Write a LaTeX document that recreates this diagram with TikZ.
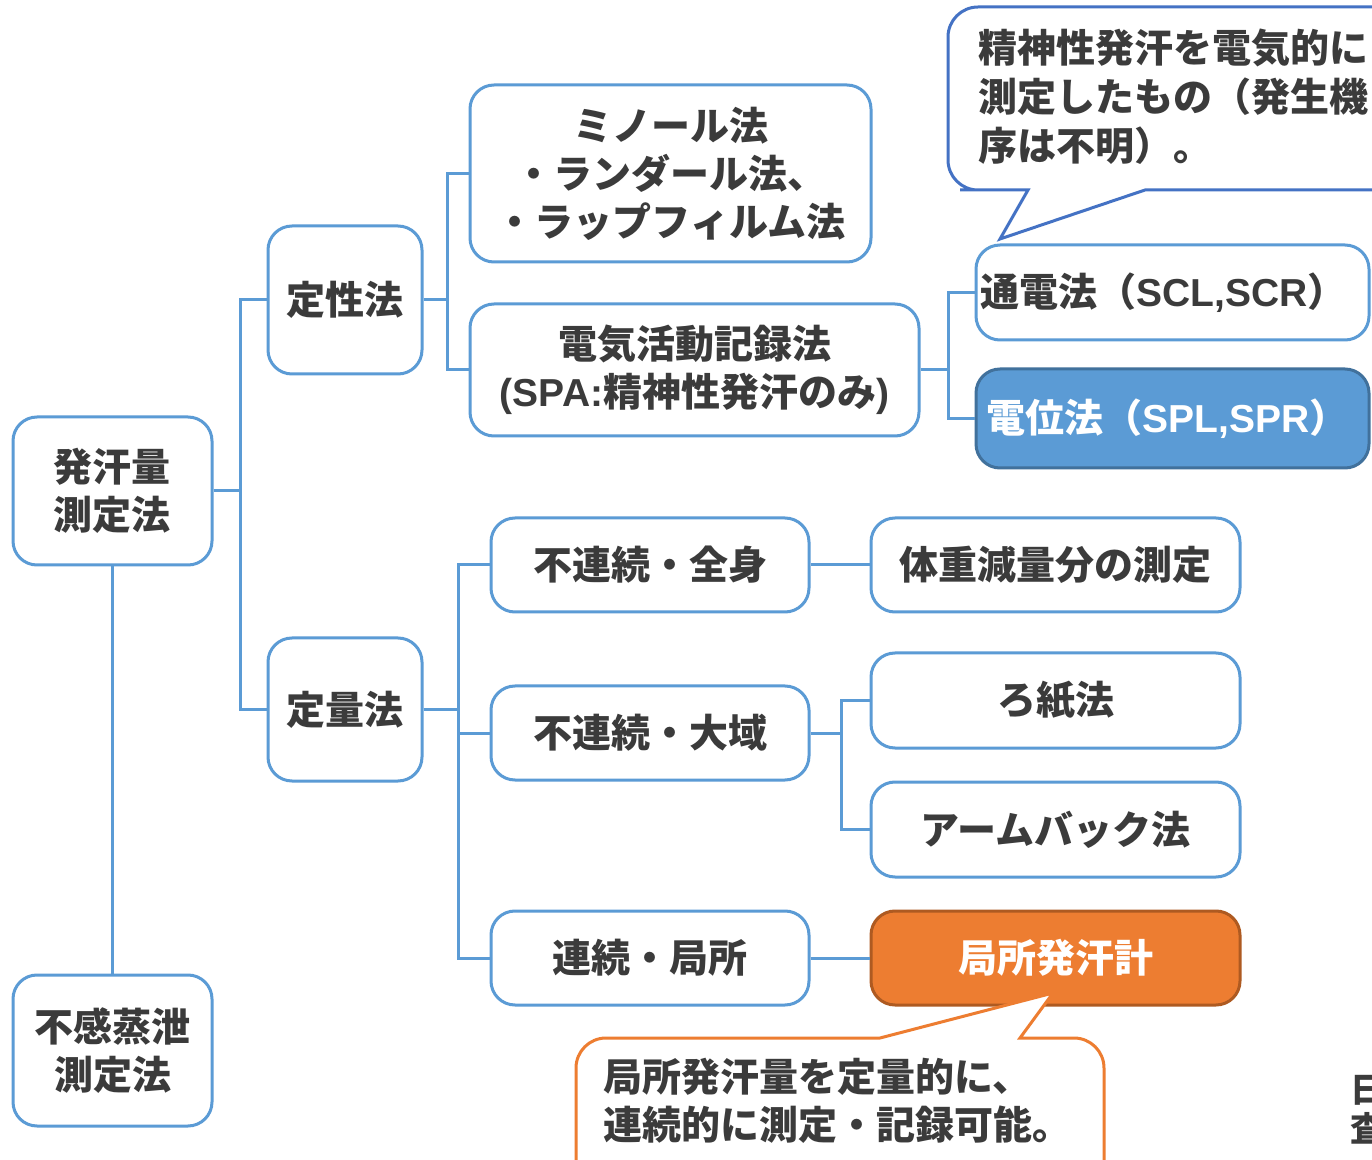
\documentclass[tikz,border=0pt]{standalone}
\usepackage{fontspec}
\setmainfont{Noto Sans CJK JP}
\newfontfamily\lat{Liberation Sans}[UprightFont={* Bold}, BoldFont={* Bold}]
\definecolor{lblue}{HTML}{5B9BD5}
\definecolor{dblue}{HTML}{41719C}
\definecolor{cblue}{HTML}{4472C4}
\definecolor{tcol}{HTML}{3B3B3B}
\definecolor{orng}{HTML}{ED7D31}
\definecolor{dorng}{HTML}{AE5A21}
\newcommand\bigfont{\fontsize{19.5}{24}\selectfont\bfseries}
\tikzset{
  box/.style={draw=lblue, line width=1.5pt, rounded corners=12pt, fill=white, text=tcol, font=\bigfont, align=center, inner sep=0pt},
  conn/.style={draw=lblue, line width=1.5pt},
  lefttext/.style={align=left, text width=192pt, inner xsep=2pt},
  calltext/.style={text=tcol, font=\bigfont, anchor=west, align=left, inner sep=0pt},
}
\begin{document}
\begin{tikzpicture}[x=0.5pt,y=-0.5pt]
\path[use as bounding box, clip] (0,0) rectangle (1372,1160);
\fill[white] (0,0) rectangle (1372,1160);
% nodes
\node[box, minimum width=99.5pt, minimum height=74pt] (hakkan) at (112.5,491) {発汗量\\測定法};
\node[box, minimum width=99.5pt, minimum height=75.5pt] (fukan) at (112.5,1050.5) {不感蒸泄\\測定法};
\node[box, minimum width=77pt, minimum height=74pt] (teisei) at (345,300) {定性法};
\node[box, minimum width=77pt, minimum height=71.5pt] (teiryo) at (345,709.5) {定量法};
\node[box, minimum width=200.5pt, minimum height=88.5pt] (minor) at (670.5,173.5) {ミノール法\\・ランダール法、\\・ラップフィルム法};
\node[box, minimum width=224.5pt, minimum height=66pt] (denki) at (694.5,370) {電気活動記録法\\{\lat (SPA:}精神性発汗のみ{\lat )}};
\node[box, lefttext, minimum width=196.5pt, minimum height=47.5pt] (tsuden) at (1172.5,292.5) {通電法（{\lat SCL,SCR}）};
\node[box, lefttext, fill=lblue, draw=dblue, text=white, minimum width=196.5pt, minimum height=49.5pt] (deni) at (1172.5,418.5) {\hspace*{3pt}電位法（{\lat SPL,SPR}）};
\node[box, minimum width=159pt, minimum height=47pt] (fz) at (650,565) {不連続・全身};
\node[box, minimum width=184.5pt, minimum height=47pt] (tj) at (1055.5,565) {体重減量分の測定};
\node[box, minimum width=159pt, minimum height=47pt] (fd) at (650,733) {不連続・大域};
\node[box, minimum width=184.5pt, minimum height=47.5pt] (roshi) at (1055.5,700.5) {ろ紙法};
\node[box, minimum width=184.5pt, minimum height=47.5pt] (arm) at (1055.5,829.5) {アームバック法};
\node[box, minimum width=159pt, minimum height=47pt] (rk) at (650,958) {連続・局所};
\node[box, fill=orng, draw=dorng, text=white, minimum width=184.5pt, minimum height=47pt] (kyoku) at (1055.5,958) {局所発汗計};
% connectors
\draw[conn] (hakkan.east) -- ++(27,0) |- (teisei.west);
\draw[conn] (hakkan.east) -- ++(27,0) |- (teiryo.west);
\draw[conn] (hakkan.south) -- (fukan.north);
\draw[conn] (teisei.east) -- ++(24,0) |- (minor.west);
\draw[conn] (teisei.east) -- ++(24,0) |- (denki.west);
\draw[conn] (denki.east) -- ++(28,0) |- (tsuden.west);
\draw[conn] (denki.east) -- ++(28,0) |- (deni.west);
\draw[conn] (teiryo.east) -- ++(35,0) |- (fz.west);
\draw[conn] (teiryo.east) -- ++(35,0) |- (fd.west);
\draw[conn] (teiryo.east) -- ++(35,0) |- (rk.west);
\draw[conn] (fz.east) -- (tj.west);
\draw[conn] (fd.east) -- ++(31,0) |- (roshi.west);
\draw[conn] (fd.east) -- ++(31,0) |- (arm.west);
\draw[conn] (rk.east) -- (kyoku.west);
% top callout
\draw[draw=cblue, line width=1.5pt, fill=white] (1000,239) -- (1145,190) -- (1180,190) [rounded corners=15pt] -- (1420,190) -- (1420,7) -- (948,7) -- (948,190) -- (990,190) [sharp corners] -- (1028,190) -- cycle;
\node[calltext] (c1a) at (978,48) {精神性発汗を電気的に};
\node[calltext] (c1b) at (978,97) {測定したもの（発生機};
\node[calltext] (c1c) at (978,146) {序は不明）。};
% bottom callout
\draw[draw=orng, line width=1.5pt, fill=white] (1053,993) -- (1020,1038) -- (1060,1038) [rounded corners=15pt] -- (1104,1038) -- (1104,1220) -- (576,1220) -- (576,1038) -- (840,1038) [sharp corners] -- (880,1038) -- cycle;
\node[calltext] (c2a) at (603,1077) {局所発汗量を定量的に、};
\node[calltext] (c2b) at (603,1125) {連続的に測定・記録可能。};
% partial text at right edge (cut off as in the reference)
\node[calltext, font=\fontsize{17}{20}\selectfont\bfseries] (p1) at (1350,1090) {日};
\node[calltext, font=\fontsize{17}{20}\selectfont\bfseries] (p2) at (1350,1128) {査};
\end{tikzpicture}
\end{document}
